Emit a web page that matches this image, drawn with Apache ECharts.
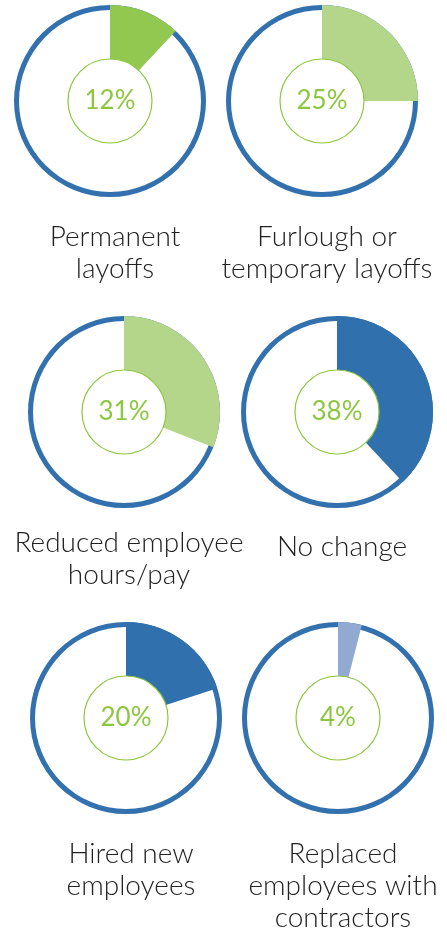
<!DOCTYPE html>
<html>
<head>
<meta charset="utf-8">
<script src="https://cdn.jsdelivr.net/npm/echarts@6/dist/echarts.min.js"></script>
<style>
  html, body { margin: 0; padding: 0; background: #fff; }
  #chart { width: 447px; height: 941px; }
</style>
</head>
<body>
<div id="chart"></div>
<script>
// data
var categories = [
  'Permanent\nlayoffs',
  'Furlough or\ntemporary layoffs',
  'Reduced employee\nhours/pay',
  'No change',
  'Hired new\nemployees',
  'Replaced\nemployees with\ncontractors'
];
var percents = [12, 25, 31, 38, 20, 4];
var wedgeColors = ['#92c850', '#b3d68a', '#b3d68a', '#3070ad', '#3070ad', '#92a9d2'];

// layout per donut
var centers = [[110, 101], [322, 101], [124, 412], [337, 412], [126, 718], [338, 718]];
var captionY = [216, 216, 522, 526, 833, 833];

var ringColor = '#3271ae';
var green = '#8dc63f';
var fontFam = 'Lato, "Open Sans", sans-serif';

var series = [];
var titles = [];
percents.forEach(function (p, i) {
  var c = centers[i];
  // outer blue ring
  series.push({
    type: 'pie', silent: true, center: c, radius: [91, 96],
    label: { show: false }, labelLine: { show: false },
    itemStyle: { color: ringColor },
    data: [{ value: 1, name: 'ring' }], z: 1
  });
  // the wedge
  series.push({
    type: 'pie', silent: true, center: c, radius: [42, 96],
    startAngle: 90, clockwise: true,
    label: { show: false }, labelLine: { show: false },
    data: [
      { value: p, name: categories[i], itemStyle: { color: wedgeColors[i] } },
      { value: 100 - p, name: 'rest', itemStyle: { color: 'transparent' } }
    ], z: 2
  });
  // inner circle with the percent
  series.push({
    type: 'pie', silent: true, center: c, radius: [0, 42],
    labelLine: { show: false },
    itemStyle: { color: '#fff', borderColor: green, borderWidth: 1.2 },
    label: {
      show: true, position: 'center', formatter: p + '%',
      color: green, fontSize: 26, fontFamily: fontFam
    },
    data: [{ value: 1, name: 'inner' }], z: 3
  });
  titles.push({
    text: categories[i],
    left: c[0], top: captionY[i],
    textAlign: 'center',
    textStyle: {
      color: '#222', fontSize: 28, fontWeight: 300,
      fontFamily: fontFam, lineHeight: 32
    }
  });
});

var chart = echarts.init(document.getElementById('chart'));
chart.setOption({
  animation: false,
  title: titles,
  series: series
});
</script>
</body>
</html>
